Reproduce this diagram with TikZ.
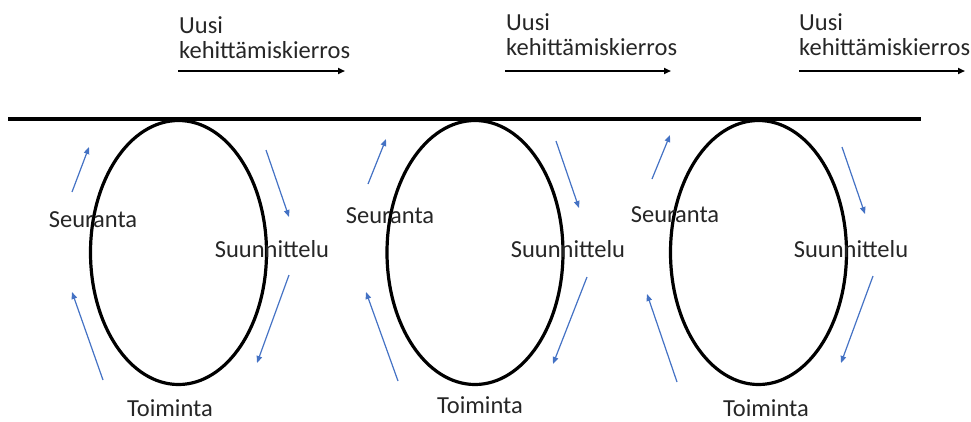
\documentclass[tikz,border=0pt]{standalone}
\usepackage{fontspec}
\setmainfont{Carlito}
\usetikzlibrary{shapes.geometric,arrows.meta}

\definecolor{flowblue}{HTML}{4472C4}
\definecolor{txt}{HTML}{262626}

\tikzset{
  cycle/.style={draw=black, line width=3.2pt, ellipse, inner sep=0pt,
                minimum width=176pt, minimum height=264pt},
  phase/.style={text=txt, inner sep=0pt, anchor=base,
                font=\fontsize{24.5}{25}\selectfont},
  roundlabel/.style={text=txt, inner sep=0pt, anchor=base west, align=left,
                font=\fontsize{24.5}{25}\selectfont},
  flow/.style={draw=flowblue, line width=1.2pt,
               -{Triangle[length=7pt,width=5.5pt]}},
  advance/.style={draw=black, line width=2pt,
                  -{Triangle[length=7pt,width=6pt]}},
  baseline/.style={draw=black, line width=4pt}
}

\begin{document}
\begin{tikzpicture}[x=1pt,y=-1pt]
\useasboundingbox (0,0) rectangle (971,421);

% common time axis
\coordinate (axisL) at (8,119);
\coordinate (axisR) at (921,119);
\draw[baseline] (axisL) -- (axisR);

% three development cycles hanging from the axis
\node[cycle] (c1) at (178.5,252.5) {};
\node[cycle] (c2) at (475,252.5) {};
\node[cycle] (c3) at (758.5,252.5) {};

% phase labels
\node[phase] (s1) at (93,227) {Seuranta};
\node[phase] (p1) at (272,257) {Suunnittelu};
\node[phase] (t1) at (170,416) {Toiminta};

\node[phase] (s2) at (390,223) {Seuranta};
\node[phase] (p2) at (568,257) {Suunnittelu};
\node[phase] (t2) at (480,413) {Toiminta};

\node[phase] (s3) at (675,222) {Seuranta};
\node[phase] (p3) at (851,257) {Suunnittelu};
\node[phase] (t3) at (766,416) {Toiminta};

% new round labels with their arrows (base anchor sits on the second line)
\node[roundlabel] (r1) at (179,58) {Uusi\\kehittämiskierros};
\node[roundlabel] (r2) at (506,55) {Uusi\\kehittämiskierros};
\node[roundlabel] (r3) at (799,55) {Uusi\\kehittämiskierros};

\coordinate (r1a) at (178,71);  \coordinate (r1b) at (345,71);
\coordinate (r2a) at (505,71);  \coordinate (r2b) at (671,71);
\coordinate (r3a) at (799,71);  \coordinate (r3b) at (965,71);
\draw[advance] (r1a) -- (r1b);
\draw[advance] (r2a) -- (r2b);
\draw[advance] (r3a) -- (r3b);

% flow arrows around cycle 1
\coordinate (a1s) at (72,192);   \coordinate (a1e) at (89,147);
\coordinate (b1s) at (266,150);  \coordinate (b1e) at (289,217);
\coordinate (d1s) at (289,275);  \coordinate (d1e) at (257,363);
\coordinate (e1s) at (103,380);  \coordinate (e1e) at (72,292);
\draw[flow] (a1s) -- (a1e);
\draw[flow] (b1s) -- (b1e);
\draw[flow] (d1s) -- (d1e);
\draw[flow] (e1s) -- (e1e);

% flow arrows around cycle 2
\coordinate (a2s) at (368,184);  \coordinate (a2e) at (386,139);
\coordinate (b2s) at (556,141);  \coordinate (b2e) at (579,208);
\coordinate (d2s) at (587,277);  \coordinate (d2e) at (553,364);
\coordinate (e2s) at (398,381);  \coordinate (e2e) at (366,292);
\draw[flow] (a2s) -- (a2e);
\draw[flow] (b2s) -- (b2e);
\draw[flow] (d2s) -- (d2e);
\draw[flow] (e2s) -- (e2e);

% flow arrows around cycle 3
\coordinate (a3s) at (652,179);  \coordinate (a3e) at (670,135);
\coordinate (b3s) at (842,147);  \coordinate (b3e) at (865,214);
\coordinate (d3s) at (873,276);  \coordinate (d3e) at (841,363);
\coordinate (e3s) at (677,382);  \coordinate (e3e) at (647,294);
\draw[flow] (a3s) -- (a3e);
\draw[flow] (b3s) -- (b3e);
\draw[flow] (d3s) -- (d3e);
\draw[flow] (e3s) -- (e3e);
\end{tikzpicture}
\end{document}
